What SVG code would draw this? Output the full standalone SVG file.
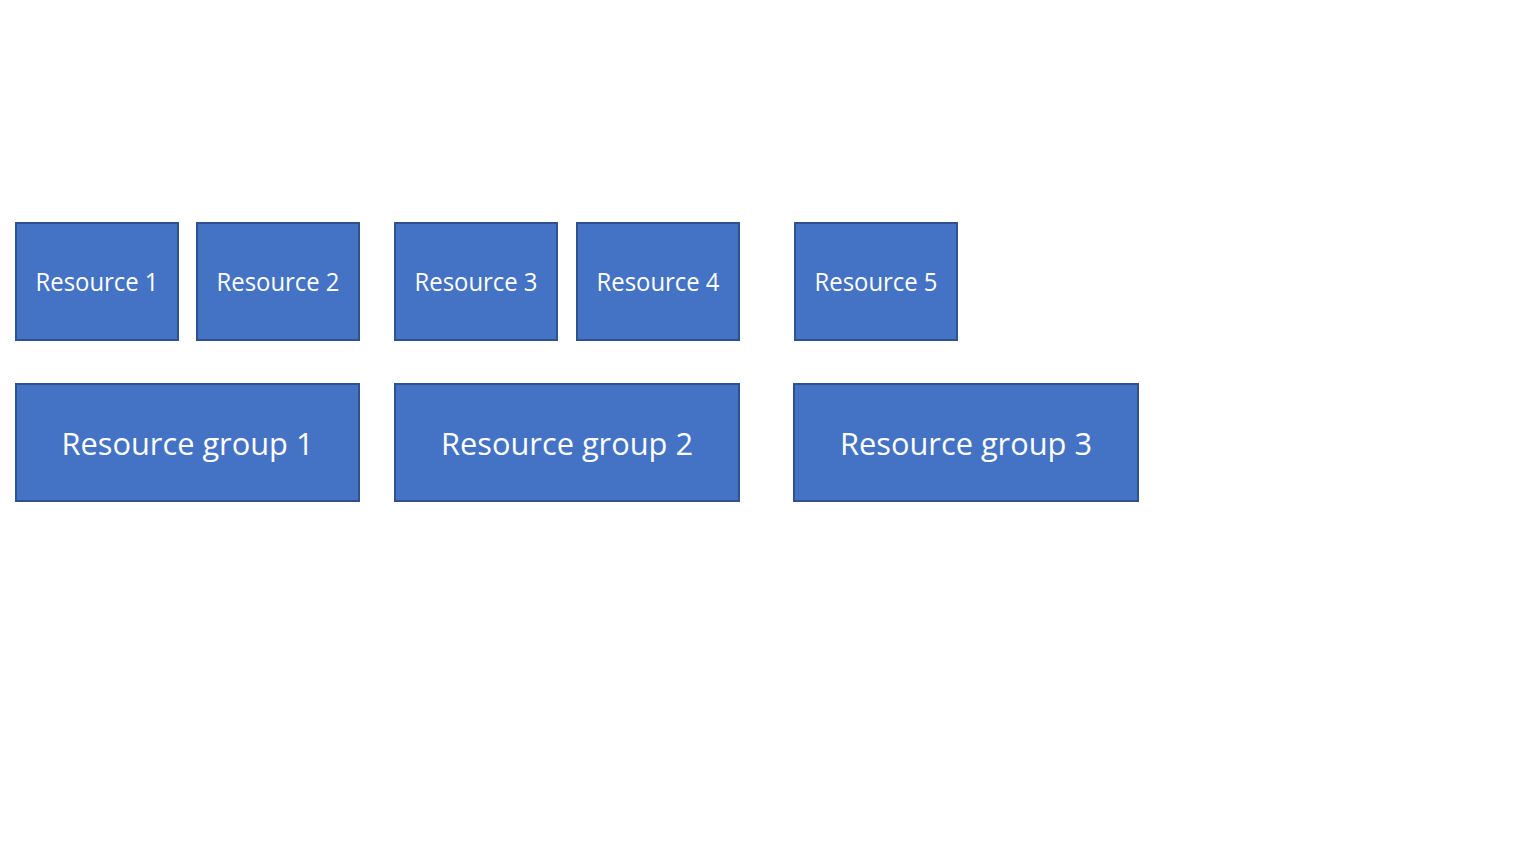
<svg xmlns="http://www.w3.org/2000/svg" width="1536" height="859" viewBox="0 0 1536 859">
<style>
.box{fill:#4472C4;stroke:#2F528F;stroke-width:2}
.t{fill:#FFFFFF;font-family:"Open Sans","Noto Sans","Liberation Sans",sans-serif;text-anchor:middle}
.s{font-size:25px}
.g{font-size:31px}
</style>
<rect width="1536" height="859" fill="#FFFFFF"/>
<g id="resource1"><rect class="box" x="16" y="223" width="162" height="117"/><text class="t s" x="97" y="291" textLength="123" lengthAdjust="spacingAndGlyphs">Resource 1</text></g>
<g id="resource2"><rect class="box" x="197" y="223" width="162" height="117"/><text class="t s" x="278" y="291" textLength="123" lengthAdjust="spacingAndGlyphs">Resource 2</text></g>
<g id="resource3"><rect class="box" x="395" y="223" width="162" height="117"/><text class="t s" x="476" y="291" textLength="123" lengthAdjust="spacingAndGlyphs">Resource 3</text></g>
<g id="resource4"><rect class="box" x="577" y="223" width="162" height="117"/><text class="t s" x="658" y="291" textLength="123" lengthAdjust="spacingAndGlyphs">Resource 4</text></g>
<g id="resource5"><rect class="box" x="795" y="223" width="162" height="117"/><text class="t s" x="876" y="291" textLength="123" lengthAdjust="spacingAndGlyphs">Resource 5</text></g>
<g id="group1"><rect class="box" x="16" y="384" width="343" height="117"/><text class="t g" x="187.5" y="455" textLength="252" lengthAdjust="spacingAndGlyphs">Resource group 1</text></g>
<g id="group2"><rect class="box" x="395" y="384" width="344" height="117"/><text class="t g" x="567" y="455" textLength="252" lengthAdjust="spacingAndGlyphs">Resource group 2</text></g>
<g id="group3"><rect class="box" x="794" y="384" width="344" height="117"/><text class="t g" x="966" y="455" textLength="252" lengthAdjust="spacingAndGlyphs">Resource group 3</text></g>
<g id="connectors"></g>
</svg>
